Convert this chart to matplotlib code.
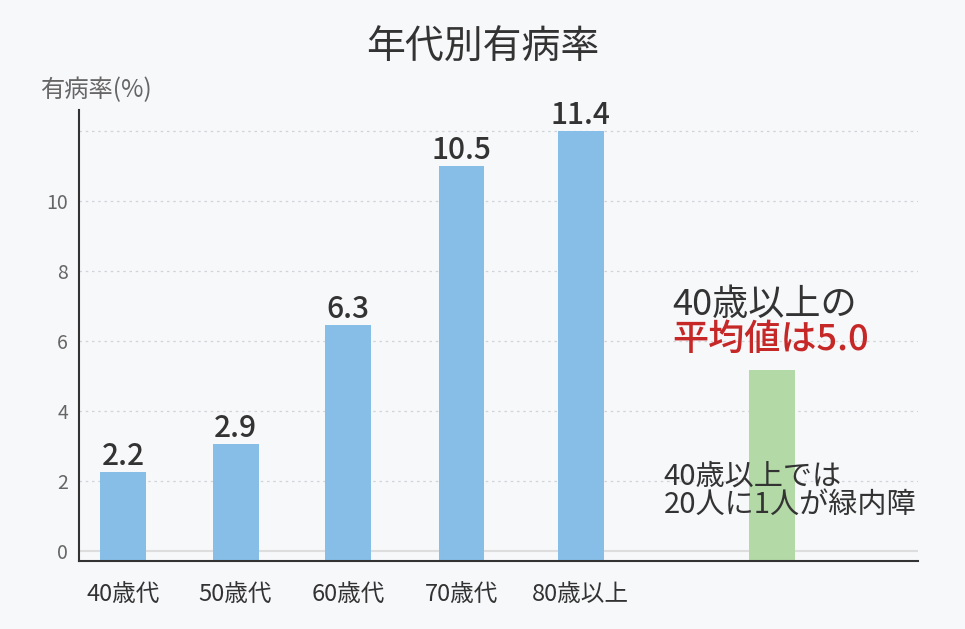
import matplotlib
matplotlib.use("Agg")
import matplotlib.pyplot as plt

plt.rcParams['font.family'] = ['Noto Sans CJK JP', 'DejaVu Sans']

# ---- data ----
categories = ["40歳代", "50歳代", "60歳代", "70歳代", "80歳以上"]
label_values = [2.2, 2.9, 6.3, 10.5, 11.4]        # printed values
bar_values = [2.25, 3.05, 6.45, 11.0, 12.0]       # drawn heights (as read)
avg_label = "5.0"
avg_bar_value = 5.15
yticks = [0, 2, 4, 6, 8, 10]
gridlines = [2, 4, 6, 8, 10, 12]

title = "年代別有病率"
ylabel = "有病率(%)"
note_top_1 = "40歳以上の"
note_top_2 = "平均値は5.0"
note_bottom = "40歳以上では\n20人に1人が緑内障"

# ---- style ----
bg = "#f7f8fa"
blue = "#87bee8"
green = "#b3d9a7"
red = "#c62828"
dark = "#333333"
gray = "#666666"

positions = [0, 0.99, 1.98, 2.98, 4.03]
avg_pos = 5.71
ymin, ymax = -0.3, 12.59
width = 0.405

fig = plt.figure(figsize=(9.65, 6.29), dpi=100, facecolor=bg)
ax = fig.add_axes([0.0819, 0.1081, 0.8694, 0.717])
ax.set_facecolor(bg)

for g in gridlines:
    ax.axhline(g, color="#d0d3d8", lw=0.9, ls=(0, (2, 3)), zorder=0)
ax.axhline(0, color="#dddddd", lw=1.5, zorder=0)

ax.bar(positions, [v - ymin for v in bar_values], bottom=ymin, width=width,
       color=blue, zorder=2)
ax.bar([avg_pos], [avg_bar_value - ymin], bottom=ymin, width=width,
       color=green, zorder=2)

for x, v, lab in zip(positions, bar_values, label_values):
    ax.annotate(f"{lab}", (x, v), xytext=(0, 0), textcoords="offset points",
                ha="center", va="bottom", fontsize=21.5, color=dark, fontweight="medium")

ax.set_xlim(-0.388, 7.0)
ax.set_ylim(ymin, ymax)
ax.set_xticks(positions)
ax.set_xticklabels(categories, fontsize=17, color=dark)
ax.set_yticks(yticks)
ax.set_yticklabels([str(t) for t in yticks], fontsize=14, color=gray)
ax.tick_params(axis="x", length=0, pad=15.5)
ax.tick_params(axis="y", length=0, pad=8)

for s in ["top", "right"]:
    ax.spines[s].set_visible(False)
for s in ["left", "bottom"]:
    ax.spines[s].set_color(dark)
    ax.spines[s].set_linewidth(1.5)

ax.text(4.84, 7.02, note_top_1, fontsize=26, color=dark, ha="left", va="center")
ax.text(4.84, 6.02, note_top_2, fontsize=26, color=red, ha="left", va="center",
        fontweight="medium")
ax.text(4.76, 1.70, note_bottom, fontsize=21, color=dark, ha="left", va="center",
        linespacing=0.93, zorder=3)

fig.text(0.5, 1 - 47 / 629, title, fontsize=28, color=dark, ha="center", va="center")
fig.text(96 / 965, 1 - 90 / 629, ylabel, fontsize=17.5, color=gray, ha="center", va="center")

fig.savefig("out.png", dpi=100, facecolor=bg)
